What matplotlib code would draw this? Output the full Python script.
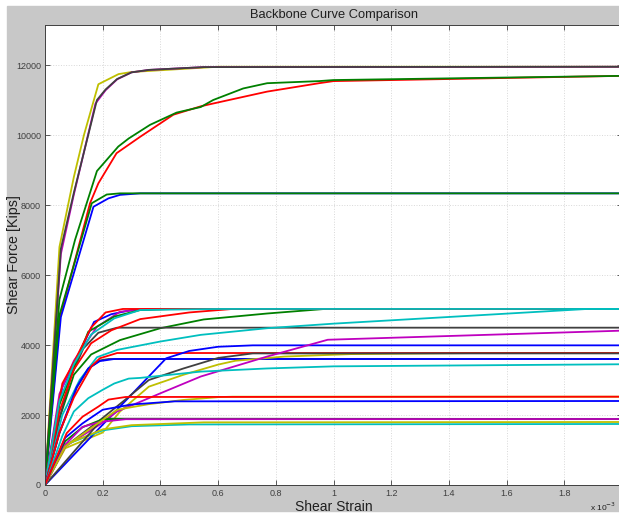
#!/usr/bin/env python3

import numpy as np
import matplotlib
matplotlib.use("Agg")
import matplotlib.pyplot as plt
from matplotlib.patches import Rectangle


# strain values are in units of 1e-3, force in kips
top_yellow_x = [0, 0.05, 0.1, 0.135, 0.185, 0.255, 0.3, 0.6, 2.0]
top_yellow_y = [0, 6800, 8800, 10000, 11450, 11740, 11800, 11950, 11950]
top_magenta_x = [0, 0.055, 0.1, 0.175, 0.21, 0.25, 0.3, 0.36, 0.55, 2.0]
top_magenta_y = [0, 6600, 8300, 10900, 11280, 11590, 11790, 11860, 11940, 11950]
top_grey_x = [0, 0.055, 0.1, 0.18, 0.21, 0.25, 0.3, 0.36, 0.55, 2.0]
top_grey_y = [0, 6750, 8350, 11000, 11300, 11600, 11790, 11860, 11940, 11950]

hi_red_x = [0, 0.052, 0.156, 0.185, 0.248, 0.33, 0.445, 0.54, 0.583, 0.77, 0.95, 1.0, 2.0]
hi_red_y = [0, 4800, 8050, 8620, 9480, 9950, 10580, 10820, 10900, 11240, 11480, 11540, 11690]
hi_green_x = [0, 0.05, 0.104, 0.18, 0.254, 0.29, 0.364, 0.456, 0.54, 0.583, 0.687, 0.77, 0.95, 1.0, 2.0]
hi_green_y = [0, 5300, 7000, 8970, 9670, 9900, 10290, 10640, 10800, 11000, 11330, 11480, 11540, 11570, 11690]

m8_blue_x = [0, 0.055, 0.168, 0.22, 0.26, 0.33, 2.0]
m8_blue_y = [0, 4800, 7950, 8190, 8290, 8333, 8333]
m8_green_x = [0, 0.05, 0.162, 0.214, 0.26, 2.0]
m8_green_y = [0, 4850, 8050, 8300, 8333, 8333]

f_red_b_x = [0, 0.05, 0.1, 0.16, 0.23, 0.33, 0.5, 0.65, 2.0]
f_red_b_y = [0, 2100, 3300, 4050, 4420, 4740, 4930, 5030, 5030]
f_green_b_x = [0, 0.05, 0.1, 0.16, 0.26, 0.4, 0.55, 0.77, 0.97, 2.0]
f_green_b_y = [0, 1900, 3150, 3730, 4140, 4480, 4730, 4900, 5030, 5030]
f_grey_x = [0, 0.05, 0.09, 0.133, 0.185, 0.25, 2.0]
f_grey_y = [0, 1900, 3100, 3900, 4350, 4495, 4495]
f_blue_x = [0, 0.06, 0.1, 0.17, 0.23, 0.3, 0.4, 2.0]
f_blue_y = [0, 2800, 3450, 4660, 4880, 5000, 5030, 5030]
f_magenta_x = [0, 0.05, 0.1, 0.18, 0.26, 0.35, 2.0]
f_magenta_y = [0, 2600, 3550, 4520, 4950, 5030, 5030]
f_green_x = [0, 0.05, 0.1, 0.15, 0.24, 0.33, 0.45, 2.0]
f_green_y = [0, 2300, 3350, 4380, 4810, 5000, 5030, 5030]
f_red_a_x = [0, 0.06, 0.1, 0.16, 0.21, 0.27, 2.0]
f_red_a_y = [0, 2900, 3500, 4500, 4930, 5030, 5030]
f_cyan_x = [0, 0.05, 0.1, 0.16, 0.24, 0.33, 0.6, 2.0]
f_cyan_y = [0, 2400, 3450, 4300, 4760, 5000, 5030, 5030]
f_cyan_b_x = [0, 0.06, 0.12, 0.18, 0.25, 0.4, 0.54, 0.77, 1.0, 1.88, 2.0]
f_cyan_b_y = [0, 2000, 3000, 3650, 3860, 4100, 4290, 4480, 4610, 5030, 5030]

e_grey_x = [0, 0.05, 0.11, 0.15, 0.19, 0.22, 2.0]
e_grey_y = [0, 1480, 2780, 3320, 3560, 3600, 3600]
e_blue_x = [0, 0.05, 0.11, 0.15, 0.19, 0.24, 2.0]
e_blue_y = [0, 1500, 2800, 3330, 3540, 3600, 3600]
g_yellow_x = [0, 0.07, 0.2, 0.26, 0.36, 0.48, 0.6, 0.66, 0.83, 1.06, 1.5, 2.0]
g_yellow_y = [0, 1050, 1500, 2100, 2810, 3150, 3440, 3550, 3670, 3740, 3771, 3771]
c_red_x = [0, 0.05, 0.1, 0.162, 0.19, 0.25, 2.0]
c_red_y = [0, 1500, 2500, 3400, 3620, 3771, 3771]
d_blue_x = [0, 0.42, 0.5, 0.6, 0.72, 2.0]
d_blue_y = [0, 3620, 3830, 3950, 3990, 3990]
f_grey2_x = [0, 0.07, 0.19, 0.28, 0.36, 0.48, 0.6, 0.72, 2.0]
f_grey2_y = [0, 1100, 1850, 2450, 3000, 3330, 3630, 3760, 3760]
h_magenta_x = [0, 0.07, 0.2, 0.25, 0.4, 0.54, 0.77, 0.98, 2.0]
h_magenta_y = [0, 1100, 1780, 2100, 2620, 3100, 3670, 4150, 4410]
i_cyan_x = [0, 0.06, 0.1, 0.15, 0.2, 0.24, 0.29, 0.33, 0.54, 0.77, 1.0, 2.0]
i_cyan_y = [0, 1400, 2100, 2480, 2720, 2900, 3040, 3060, 3240, 3330, 3390, 3450]

q_cyan_x = [0, 0.07, 0.2, 0.3, 0.5, 2.0]
q_cyan_y = [0, 1150, 1560, 1680, 1730, 1743]
p_yellow_x = [0, 0.07, 0.2, 0.3, 0.55, 2.0]
p_yellow_y = [0, 1150, 1590, 1710, 1790, 1800]
n_grey_x = [0, 0.2, 0.25, 2.0]
n_grey_y = [0, 1900, 1895, 1886]
m_green_x = [0, 0.07, 0.13, 0.2, 0.25, 2.0]
m_green_y = [0, 1250, 1650, 1880, 1886, 1886]
o_magenta_x = [0, 0.07, 0.13, 0.19, 0.28, 2.0]
o_magenta_y = [0, 1150, 1660, 1800, 1880, 1886]
l_yellow_x = [0, 0.07, 0.19, 0.25, 0.36, 0.48, 0.6, 0.65, 2.0]
l_yellow_y = [0, 1100, 1800, 2150, 2310, 2430, 2510, 2523, 2523]
k_blue_x = [0, 0.07, 0.13, 0.2, 0.3, 0.45, 2.0]
k_blue_y = [0, 1350, 1760, 2150, 2300, 2390, 2400]
j_red_x = [0, 0.075, 0.13, 0.185, 0.22, 0.28, 2.0]
j_red_y = [0, 1480, 1950, 2240, 2440, 2515, 2523]

x_ticks = [0, 0.2, 0.4, 0.6, 0.8, 1.0, 1.2, 1.4, 1.6, 1.8]
x_tick_labels = ["0", "0.2", "0.4", "0.6", "0.8", "1", "1.2", "1.4", "1.6", "1.8"]
y_ticks = [0, 2000, 4000, 6000, 8000, 10000, 12000]


B = (0.0, 0.0, 1.0)
G = (0.0, 0.5, 0.0)
R = (1.0, 0.0, 0.0)
C = (0.0, 0.75, 0.75)
M = (0.75, 0.0, 0.75)
Y = (0.75, 0.75, 0.0)
K = (0.25, 0.25, 0.25)

curves = [
    (top_yellow_x, top_yellow_y, Y),
    (top_magenta_x, top_magenta_y, M),
    (top_grey_x, top_grey_y, K),
    (hi_red_x, hi_red_y, R),
    (hi_green_x, hi_green_y, G),
    (m8_blue_x, m8_blue_y, B),
    (m8_green_x, m8_green_y, G),
    (f_green_b_x, f_green_b_y, G),
    (f_grey_x, f_grey_y, K),
    (f_blue_x, f_blue_y, B),
    (f_magenta_x, f_magenta_y, M),
    (f_green_x, f_green_y, G),
    (f_red_b_x, f_red_b_y, R),
    (f_red_a_x, f_red_a_y, R),
    (f_cyan_x, f_cyan_y, C),
    (f_cyan_b_x, f_cyan_b_y, C),
    (e_grey_x, e_grey_y, K),
    (e_blue_x, e_blue_y, B),
    (g_yellow_x, g_yellow_y, Y),
    (c_red_x, c_red_y, R),
    (d_blue_x, d_blue_y, B),
    (f_grey2_x, f_grey2_y, K),
    (h_magenta_x, h_magenta_y, M),
    (i_cyan_x, i_cyan_y, C),
    (q_cyan_x, q_cyan_y, C),
    (p_yellow_x, p_yellow_y, Y),
    (n_grey_x, n_grey_y, K),
    (m_green_x, m_green_y, G),
    (o_magenta_x, o_magenta_y, M),
    (l_yellow_x, l_yellow_y, Y),
    (k_blue_x, k_blue_y, B),
    (j_red_x, j_red_y, R),
]

plt.rcParams["font.family"] = ["Liberation Sans", "DejaVu Sans"]

W, H = 619, 514
fig = plt.figure(figsize=(W / 100, H / 100), dpi=100, facecolor="white")
fig.patches.append(Rectangle((7 / W, 3 / H), 1 - 7 / W, (511 - 6) / H,
                             transform=fig.transFigure, color="#c8c8c8", zorder=-10))

ax = fig.add_axes([45 / W, (H - 485) / H, 577 / W, 460 / H])
ax.set_facecolor("white")

for xs, ys, col in curves:
    ax.plot(xs, ys, color=col, lw=1.3, solid_joinstyle="round")

ax.set_xlim(0, 2.0)
ax.set_ylim(0, 13143)
ax.set_xticks(x_ticks)
ax.set_xticklabels(x_tick_labels)
ax.set_yticks(y_ticks)
ax.grid(True, color="#d8d8d8", linestyle=":", linewidth=0.7)

ax.tick_params(axis="both", which="both", direction="in", top=True, right=True,
               length=3.5, width=0.6, colors="#404040", labelsize=6.5, pad=3)
for spine in ax.spines.values():
    spine.set_color("#404040")
    spine.set_linewidth(0.7)

ax.set_title("Backbone Curve Comparison", fontsize=9.3, pad=5, color="#202020")
ax.set_xlabel("Shear Strain", fontsize=10, labelpad=1, color="#202020")
ax.set_ylabel("Shear Force [Kips]", fontsize=10.3, color="#202020")
ax.yaxis.set_label_coords((21 - 45) / 577, 0.5)

fig.text(590 / W, 1 - 511 / H, r"x 10$^{-3}$", fontsize=6, color="#202020")

fig.savefig("out.png", dpi=100, facecolor=fig.get_facecolor())
